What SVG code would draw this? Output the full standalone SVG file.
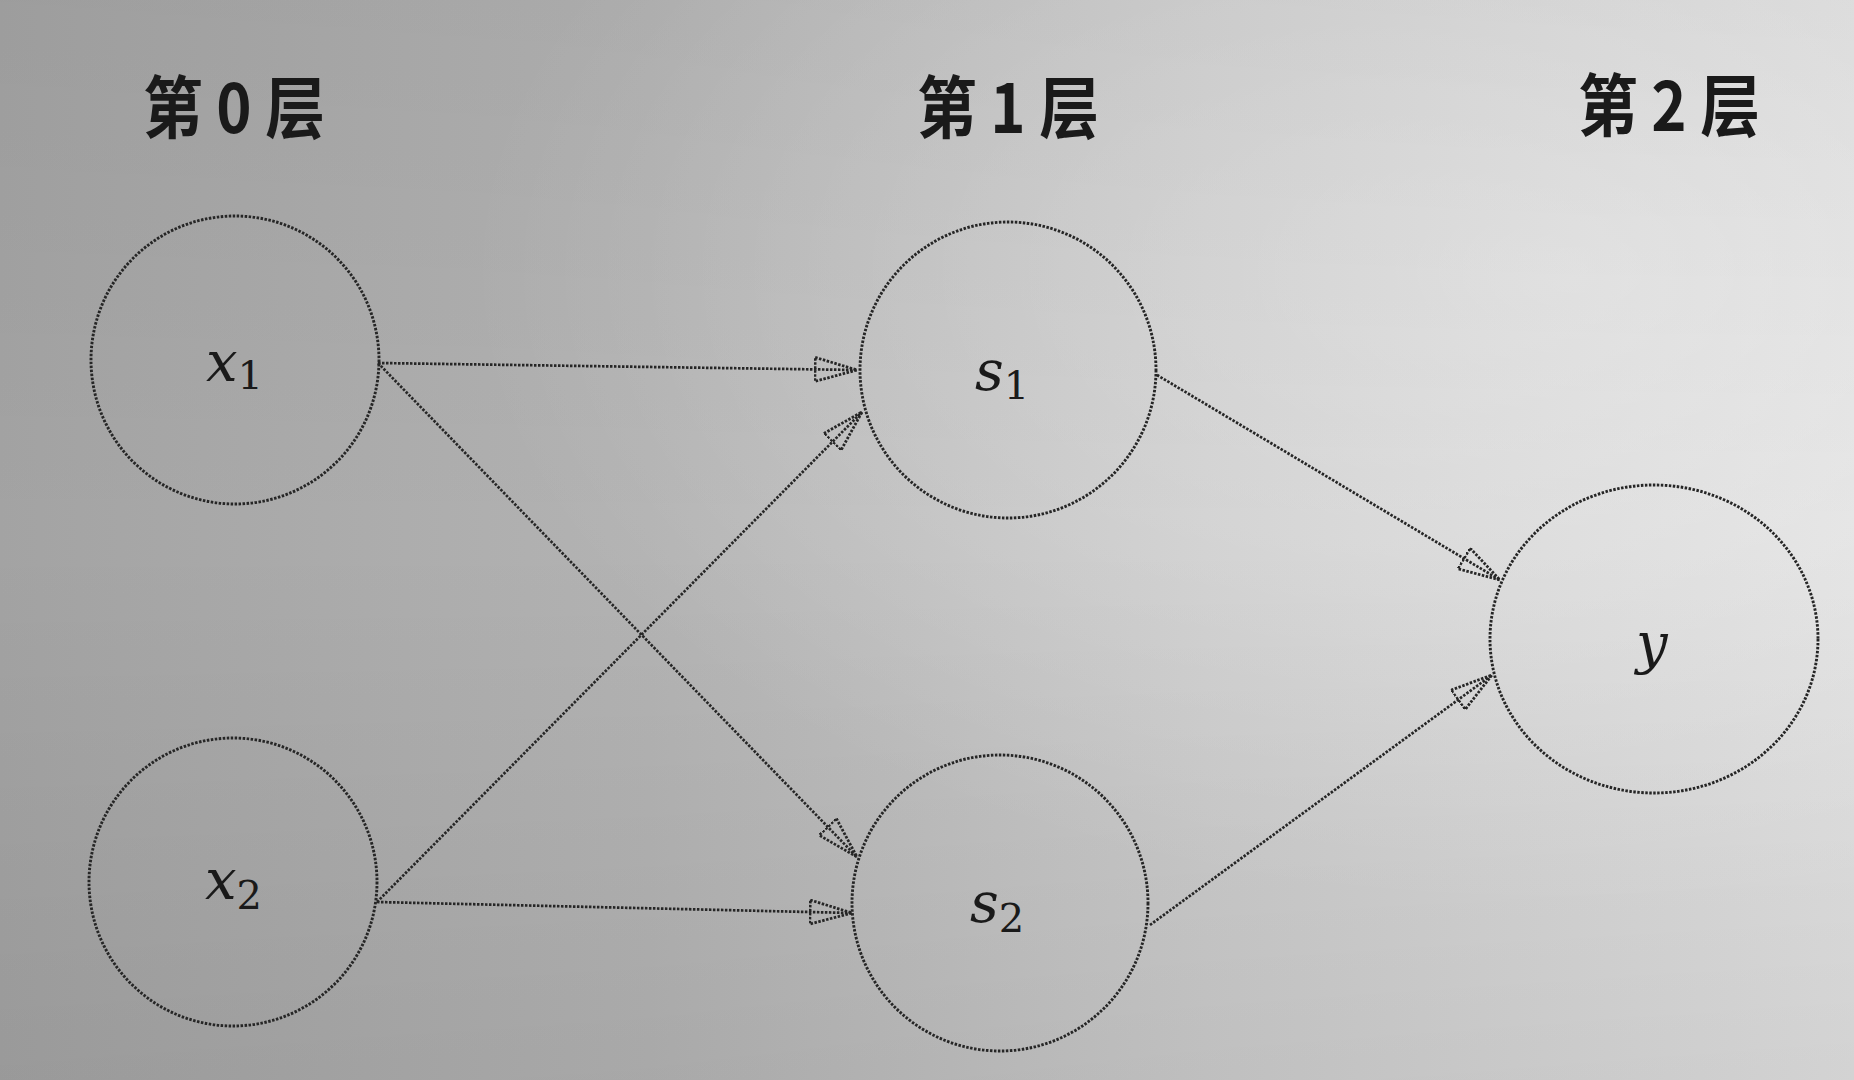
<svg xmlns="http://www.w3.org/2000/svg" width="1854" height="1080" viewBox="0 0 1854 1080">
  <defs>
    <linearGradient id="bg" x1="0" y1="0" x2="1" y2="0">
      <stop offset="0" stop-color="#a3a3a3"/>
      <stop offset="0.35" stop-color="#b3b3b3"/>
      <stop offset="0.65" stop-color="#cbcbcb"/>
      <stop offset="1" stop-color="#e0e0e0"/>
    </linearGradient>
    <radialGradient id="glow" cx="0.85" cy="0.25" r="0.6">
      <stop offset="0" stop-color="#ffffff" stop-opacity="0.35"/>
      <stop offset="1" stop-color="#ffffff" stop-opacity="0"/>
    </radialGradient>
    <linearGradient id="shade" x1="0" y1="0" x2="0" y2="1">
      <stop offset="0" stop-color="#000000" stop-opacity="0.04"/>
      <stop offset="0.5" stop-color="#000000" stop-opacity="0"/>
      <stop offset="1" stop-color="#000000" stop-opacity="0.06"/>
    </linearGradient>
    <marker id="arr" markerUnits="userSpaceOnUse" markerWidth="46" markerHeight="28" refX="43" refY="13" orient="auto">
      <path d="M1,1 L43,13 L1,25 Z" fill="none" stroke="#262626" stroke-width="2.8" stroke-dasharray="2.5 1.5"/>
    </marker>
    <style>
      .node { fill: none; stroke: #262626; stroke-width: 2.9; stroke-dasharray: 2.5 1.5; }
      .edge { fill: none; stroke: #262626; stroke-width: 2.7; stroke-dasharray: 2.5 1.5; marker-end: url(#arr); }
      .title { font-family: "Noto Sans CJK SC", "Noto Sans", sans-serif; font-weight: bold; font-size: 68px; fill: #1a1a1a; text-anchor: middle; }
      .math { font-family: "DejaVu Serif", "Liberation Serif", serif; font-style: italic; font-size: 56px; fill: #1a1a1a; }
      .sub { font-style: normal; font-size: 40px; }
    </style>
  </defs>

  <rect x="0" y="0" width="1854" height="1080" fill="url(#bg)"/>
  <rect x="0" y="0" width="1854" height="1080" fill="url(#glow)"/>
  <rect x="0" y="0" width="1854" height="1080" fill="url(#shade)"/>

  <g id="titles">
    <text class="title" transform="translate(234 133) scale(0.88 1)" x="0" y="0">第 0 层</text>
    <text class="title" transform="translate(1008 133) scale(0.88 1)" x="0" y="0">第 1 层</text>
    <text class="title" transform="translate(1669 131) scale(0.88 1)" x="0" y="0">第 2 层</text>
  </g>

  <g id="connectors">
    <line class="edge" x1="378" y1="363" x2="857" y2="370"/>
    <line class="edge" x1="378" y1="363" x2="857" y2="857"/>
    <line class="edge" x1="377" y1="902" x2="862" y2="412"/>
    <line class="edge" x1="377" y1="902" x2="852" y2="913"/>
    <line class="edge" x1="1157" y1="375" x2="1500" y2="580"/>
    <line class="edge" x1="1150" y1="925" x2="1492" y2="675"/>
  </g>

  <g id="node-x1">
    <circle class="node" cx="235" cy="360" r="144"/>
    <text class="math" x="206" y="381">x<tspan class="sub" dy="8">1</tspan></text>
  </g>
  <g id="node-x2">
    <circle class="node" cx="233" cy="882" r="144"/>
    <text class="math" x="205" y="899">x<tspan class="sub" dy="10">2</tspan></text>
  </g>
  <g id="node-s1">
    <circle class="node" cx="1008" cy="370" r="148"/>
    <text class="math" x="975" y="390">s<tspan class="sub" dy="9">1</tspan></text>
  </g>
  <g id="node-s2">
    <circle class="node" cx="1000" cy="903" r="148"/>
    <text class="math" x="970" y="922">s<tspan class="sub" dy="10">2</tspan></text>
  </g>
  <g id="node-y">
    <ellipse class="node" cx="1654" cy="639" rx="164" ry="154"/>
    <text class="math" x="1636" y="663">y</text>
  </g>
</svg>
